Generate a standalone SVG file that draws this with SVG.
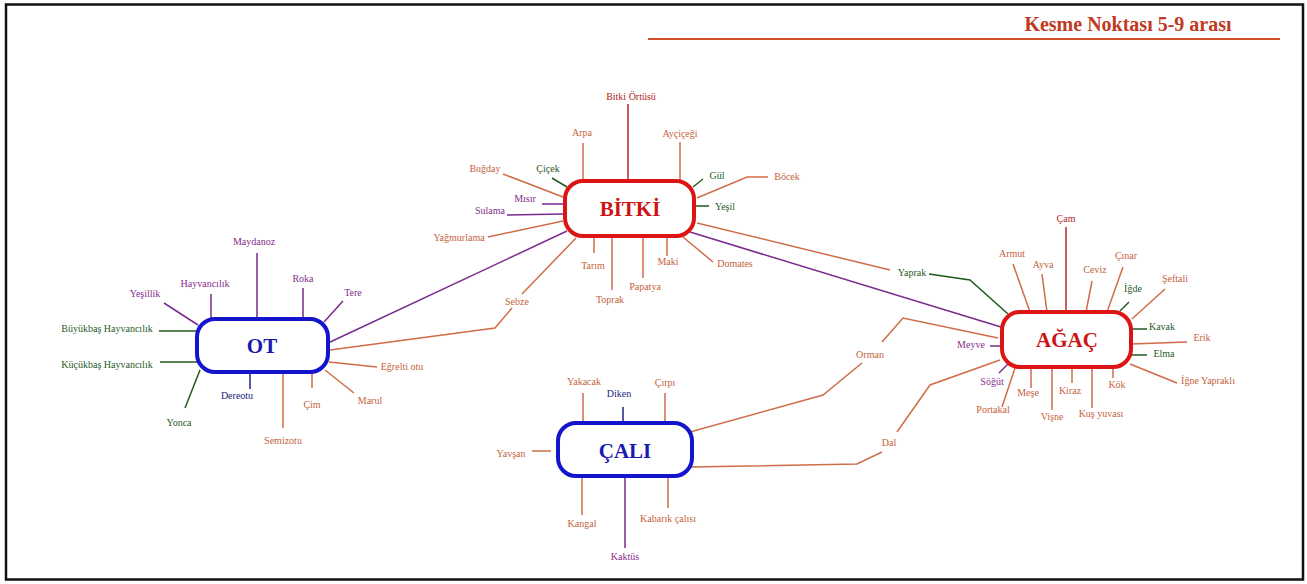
<svg xmlns="http://www.w3.org/2000/svg" width="1307" height="584" viewBox="0 0 1307 584">
  <style>
    text { font-family: "Liberation Serif", "Times New Roman", serif; font-size: 10px; text-anchor: middle; }
    .lo { stroke: #cf6d47; stroke-width: 1.5; fill: none; }
    .lp { stroke: #7a2a8e; stroke-width: 1.5; fill: none; }
    .lg { stroke: #1f5a1f; stroke-width: 1.5; fill: none; }
    .ln { stroke: #1c2480; stroke-width: 1.5; fill: none; }
    .lr { stroke: #b52a2a; stroke-width: 1.5; fill: none; }
    .to { fill: #c4623c; }
    .tp { fill: #862c8c; }
    .tg { fill: #1f5a1f; }
    .tn { fill: #1c2480; }
    .tr { fill: #b01e1e; }
    .boxr { fill: #fff; stroke: #dc1414; stroke-width: 4; }
    .boxb { fill: #fff; stroke: #1414cc; stroke-width: 4; }
    .title { font-size: 21px; font-weight: bold; }
    .hr { fill: #cc1414; }
    .hb { fill: #1a1ab0; }
  </style>

  <!-- page frame -->
  <rect x="6" y="4.5" width="1297" height="575" fill="#fff" stroke="#111" stroke-width="2.5"/>

  <!-- heading -->
  <g id="heading">
    <text x="1128" y="31" style="font-size:20px;font-weight:bold;fill:#c03a22">Kesme Noktası 5-9 arası</text>
    <line x1="648" y1="39" x2="1280" y2="39" stroke="#d0502c" stroke-width="2"/>
  </g>

  <!-- connectors between the main nodes -->
  <g id="connectors">
    <line class="lp" x1="567" y1="231" x2="328" y2="343"/>
    <polyline class="lo" points="576,238 522,294"/>
    <polyline class="lo" points="512,308 495,328 330,350"/>
    <polyline class="lo" points="697,223 890,270"/>
    <polyline class="lg" points="929,274 970,280 1008,314"/>
    <line class="lp" x1="690" y1="232" x2="1001" y2="327"/>
    <polyline class="lo" points="998,338 903,318 882,342"/>
    <polyline class="lo" points="862,363 823,395 690,432"/>
    <polyline class="lo" points="1000,360 930,385 897,432"/>
    <polyline class="lo" points="882,452 857,464 690,467"/>
    <text class="to" x="517" y="305">Sebze</text>
    <text class="tg" x="912" y="276">Yaprak</text>
    <text class="to" x="870" y="358">Orman</text>
    <text class="to" x="889" y="446">Dal</text>
  </g>

  <!-- BİTKİ -->
  <g id="node-bitki">
    <line class="lr" x1="628" y1="104" x2="628" y2="181"/>
    <line class="lo" x1="583" y1="143" x2="583" y2="181"/>
    <line class="lo" x1="680" y1="142" x2="680" y2="181"/>
    <line class="lo" x1="503" y1="174" x2="563" y2="197"/>
    <line class="lg" x1="552" y1="178" x2="567" y2="187"/>
    <line class="lp" x1="542" y1="204" x2="563" y2="204"/>
    <line class="lp" x1="507" y1="215" x2="563" y2="214"/>
    <line class="lo" x1="488" y1="237" x2="563" y2="221"/>
    <line class="lo" x1="594" y1="237" x2="594" y2="253"/>
    <line class="lo" x1="612" y1="237" x2="612" y2="290"/>
    <line class="lo" x1="643" y1="237" x2="643" y2="278"/>
    <line class="lo" x1="667" y1="237" x2="667" y2="256"/>
    <line class="lo" x1="683" y1="237" x2="713" y2="262"/>
    <line class="lg" x1="703" y1="179" x2="693" y2="187"/>
    <polyline class="lo" points="768,177 747,177 697,198"/>
    <line class="lg" x1="709" y1="206" x2="696" y2="206"/>
    <rect class="boxr" x="565" y="181" width="129" height="55" rx="18"/>
    <text class="title hr" x="630" y="216">BİTKİ</text>
    <text class="tr" x="631" y="100">Bitki Örtüsü</text>
    <text class="to" x="582" y="136">Arpa</text>
    <text class="to" x="680" y="137">Ayçiçeği</text>
    <text class="to" x="485" y="172">Buğday</text>
    <text class="tg" x="548" y="172">Çiçek</text>
    <text class="tp" x="525" y="202">Mısır</text>
    <text class="tp" x="490" y="214">Sulama</text>
    <text class="to" x="459" y="241">Yağmurlama</text>
    <text class="to" x="593" y="269">Tarım</text>
    <text class="to" x="610" y="303">Toprak</text>
    <text class="to" x="645" y="290">Papatya</text>
    <text class="to" x="668" y="265">Maki</text>
    <text class="to" x="735" y="267">Domates</text>
    <text class="tg" x="717" y="179">Gül</text>
    <text class="to" x="787" y="180">Böcek</text>
    <text class="tg" x="725" y="210">Yeşil</text>
  </g>

  <!-- OT -->
  <g id="node-ot">
    <line class="lp" x1="257" y1="253" x2="257" y2="319"/>
    <line class="lp" x1="211" y1="294" x2="211" y2="319"/>
    <line class="lp" x1="164" y1="303" x2="198" y2="325"/>
    <line class="lg" x1="159" y1="331" x2="197" y2="331"/>
    <line class="lg" x1="160" y1="362" x2="197" y2="362"/>
    <line class="lg" x1="185" y1="408" x2="200" y2="370"/>
    <line class="ln" x1="250" y1="372" x2="250" y2="389"/>
    <line class="lp" x1="303" y1="288" x2="303" y2="319"/>
    <line class="lp" x1="343" y1="301" x2="324" y2="322"/>
    <line class="lo" x1="377" y1="367" x2="329" y2="362"/>
    <line class="lo" x1="354" y1="393" x2="325" y2="370"/>
    <line class="lo" x1="312" y1="372" x2="312" y2="388"/>
    <line class="lo" x1="283" y1="372" x2="283" y2="428"/>
    <rect class="boxb" x="197" y="319" width="131" height="53" rx="18"/>
    <text class="title hb" x="262" y="353">OT</text>
    <text class="tp" x="254" y="245">Maydanoz</text>
    <text class="tp" x="205" y="287">Hayvancılık</text>
    <text class="tp" x="145" y="297">Yeşillik</text>
    <text class="tg" x="107" y="332">Büyükbaş Hayvancılık</text>
    <text class="tg" x="107" y="368">Küçükbaş Hayvancılık</text>
    <text class="tg" x="179" y="426">Yonca</text>
    <text class="tn" x="237" y="399">Dereotu</text>
    <text class="tp" x="303" y="282">Roka</text>
    <text class="tp" x="353" y="296">Tere</text>
    <text class="to" x="402" y="370">Eğrelti otu</text>
    <text class="to" x="370" y="404">Marul</text>
    <text class="to" x="312" y="408">Çim</text>
    <text class="to" x="283" y="444">Semizotu</text>
  </g>

  <!-- AĞAÇ -->
  <g id="node-agac">
    <line class="lr" x1="1066" y1="227" x2="1066" y2="312"/>
    <line class="lo" x1="1013" y1="264" x2="1030" y2="312"/>
    <line class="lo" x1="1042" y1="274" x2="1047" y2="312"/>
    <line class="lo" x1="1092" y1="281" x2="1086" y2="312"/>
    <line class="lo" x1="1123" y1="267" x2="1107" y2="312"/>
    <line class="lg" x1="1129" y1="302" x2="1120" y2="311"/>
    <line class="lo" x1="1165" y1="289" x2="1132" y2="319"/>
    <line class="lg" x1="1147" y1="329" x2="1131" y2="329"/>
    <line class="lo" x1="1187" y1="342" x2="1131" y2="344"/>
    <line class="lg" x1="1147" y1="355" x2="1131" y2="355"/>
    <line class="lo" x1="1177" y1="383" x2="1130" y2="364"/>
    <line class="lo" x1="1113" y1="367" x2="1113" y2="378"/>
    <line class="lo" x1="1092" y1="367" x2="1092" y2="408"/>
    <line class="lo" x1="1072" y1="367" x2="1072" y2="383"/>
    <line class="lo" x1="1052" y1="367" x2="1052" y2="410"/>
    <line class="lo" x1="1031" y1="367" x2="1031" y2="388"/>
    <line class="lo" x1="1015" y1="368" x2="1002" y2="407"/>
    <line class="lp" x1="999" y1="373" x2="1008" y2="364"/>
    <line class="lp" x1="990" y1="346" x2="1002" y2="346"/>
    <rect class="boxr" x="1002" y="312" width="129" height="55" rx="18"/>
    <text class="title hr" x="1067" y="347">AĞAÇ</text>
    <text class="tr" x="1066" y="222">Çam</text>
    <text class="to" x="1012" y="257">Armut</text>
    <text class="to" x="1043" y="268">Ayva</text>
    <text class="to" x="1095" y="273">Ceviz</text>
    <text class="to" x="1126" y="259">Çınar</text>
    <text class="tg" x="1133" y="292">İğde</text>
    <text class="to" x="1175" y="282">Şeftali</text>
    <text class="tg" x="1162" y="330">Kavak</text>
    <text class="to" x="1202" y="341">Erik</text>
    <text class="tg" x="1164" y="357">Elma</text>
    <text class="to" x="1208" y="384">İğne Yapraklı</text>
    <text class="to" x="1117" y="388">Kök</text>
    <text class="to" x="1101" y="417">Kuş yuvası</text>
    <text class="to" x="1070" y="394">Kiraz</text>
    <text class="to" x="1052" y="420">Vişne</text>
    <text class="to" x="1028" y="396">Meşe</text>
    <text class="to" x="993" y="413">Portakal</text>
    <text class="tp" x="992" y="385">Söğüt</text>
    <text class="tp" x="971" y="348">Meyve</text>
  </g>

  <!-- ÇALI -->
  <g id="node-cali">
    <line class="lo" x1="583" y1="393" x2="583" y2="423"/>
    <line class="ln" x1="623" y1="407" x2="623" y2="423"/>
    <line class="lo" x1="665" y1="393" x2="665" y2="423"/>
    <line class="lo" x1="532" y1="451" x2="551" y2="451"/>
    <line class="lo" x1="582" y1="477" x2="582" y2="515"/>
    <line class="lp" x1="625" y1="477" x2="625" y2="548"/>
    <line class="lo" x1="668" y1="477" x2="668" y2="508"/>
    <rect class="boxb" x="558" y="423" width="134" height="53" rx="18"/>
    <text class="title hb" x="625" y="458">ÇALI</text>
    <text class="to" x="584" y="385">Yakacak</text>
    <text class="tn" x="619" y="397">Diken</text>
    <text class="to" x="665" y="386">Çırpı</text>
    <text class="to" x="511" y="457">Yavşan</text>
    <text class="to" x="582" y="527">Kangal</text>
    <text class="tp" x="625" y="560">Kaktüs</text>
    <text class="to" x="668" y="522">Kabarık çalısı</text>
  </g>
</svg>
